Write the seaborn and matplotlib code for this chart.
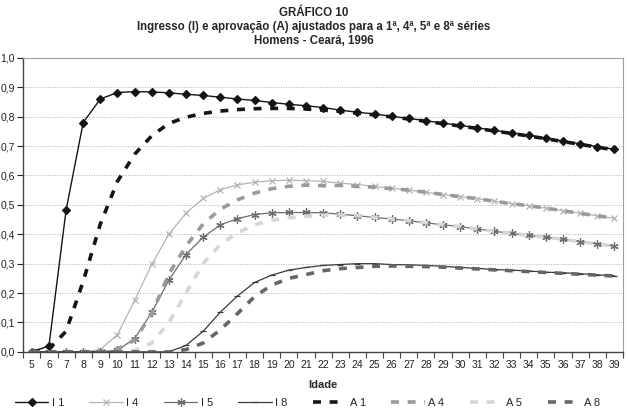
import matplotlib
matplotlib.use("Agg")
import matplotlib.pyplot as plt
import seaborn as sns
import pandas as pd
from matplotlib.ticker import FixedLocator, MultipleLocator, FuncFormatter

idade = list(range(5, 40))

i1 = [0.0, 0.02, 0.482, 0.780, 0.860, 0.882, 0.885, 0.884, 0.881, 0.876, 0.872, 0.866, 0.860,
      0.855, 0.848, 0.842, 0.837, 0.831, 0.822, 0.815, 0.809, 0.801, 0.794, 0.786, 0.778, 0.770,
      0.762, 0.753, 0.745, 0.736, 0.727, 0.717, 0.708, 0.698, 0.689]
i4 = [0, 0, 0, 0, 0.008, 0.059, 0.175, 0.298, 0.400, 0.472, 0.522, 0.551, 0.568, 0.577, 0.582,
      0.584, 0.582, 0.580, 0.574, 0.569, 0.563, 0.556, 0.550, 0.543, 0.535, 0.528, 0.521, 0.512,
      0.504, 0.497, 0.489, 0.480, 0.471, 0.463, 0.454]
i5 = [0, 0, 0, 0, 0, 0.006, 0.045, 0.134, 0.244, 0.331, 0.390, 0.432, 0.453, 0.467, 0.473, 0.474,
      0.474, 0.473, 0.468, 0.463, 0.457, 0.452, 0.446, 0.439, 0.432, 0.426, 0.418, 0.410, 0.403,
      0.396, 0.390, 0.383, 0.375, 0.367, 0.360]
i8 = [0, 0, 0, 0, 0, 0, 0, 0, 0, 0.022, 0.070, 0.135, 0.190, 0.236, 0.261, 0.278, 0.287, 0.294,
      0.297, 0.300, 0.300, 0.297, 0.296, 0.294, 0.291, 0.287, 0.284, 0.280, 0.278, 0.275, 0.271,
      0.269, 0.266, 0.262, 0.259]
a1 = [0.0, 0.01, 0.07, 0.24, 0.435, 0.58, 0.672, 0.735, 0.777, 0.798, 0.811, 0.819, 0.824, 0.827,
      0.828, 0.828, 0.826, 0.822, 0.818, 0.812, 0.806, 0.799, 0.792, 0.784, 0.776, 0.768, 0.760,
      0.751, 0.743, 0.734, 0.725, 0.715, 0.706, 0.696, 0.687]
a4 = [0, 0, 0, 0, 0, 0.01, 0.04, 0.13, 0.265, 0.36, 0.435, 0.485, 0.517, 0.540, 0.555, 0.563,
      0.567, 0.565, 0.566, 0.563, 0.560, 0.555, 0.550, 0.543, 0.535, 0.528, 0.521, 0.512, 0.504,
      0.497, 0.489, 0.480, 0.471, 0.463, 0.454]
a5 = [0, 0, 0, 0, 0, 0, 0.005, 0.03, 0.10, 0.20, 0.30, 0.365, 0.405, 0.432, 0.448, 0.456, 0.461,
      0.465, 0.466, 0.463, 0.457, 0.452, 0.446, 0.439, 0.432, 0.426, 0.418, 0.410, 0.403, 0.396,
      0.390, 0.383, 0.375, 0.367, 0.360]
a8 = [0, 0, 0, 0, 0, 0, 0, 0, 0, 0.008, 0.03, 0.075, 0.13, 0.188, 0.227, 0.25, 0.263, 0.276,
      0.283, 0.287, 0.291, 0.292, 0.291, 0.290, 0.288, 0.285, 0.282, 0.279, 0.276, 0.273, 0.270,
      0.267, 0.264, 0.261, 0.258]

series = {"I 1": i1, "I 4": i4, "I 5": i5, "I 8": i8,
          "A 1": a1, "A 4": a4, "A 5": a5, "A 8": a8}
df = pd.DataFrame({"Idade": idade, **series})

sns.set_style("white")
plt.rcParams["font.family"] = ["Liberation Sans", "DejaVu Sans"]

fig = plt.figure(figsize=(6.28, 4.13), dpi=100)
ax = fig.add_axes([0.037, 0.148, 0.955, 0.712])

solid = {
    "I 1": dict(color="#151515", marker="D", markersize=3.6, lw=1.0),
    "I 4": dict(color="#b4b4b4", marker="x", markersize=5, lw=0.9),
    "I 5": dict(color="#6e6e6e", marker=(6, 2, 0), markersize=6, lw=0.9),
    "I 8": dict(color="#3a3a3a", marker="_", markersize=5, lw=0.9),
}
dashed = {"A 1": "#151515", "A 4": "#9a9a9a", "A 5": "#d6d6d6", "A 8": "#666666"}

for name, st in solid.items():
    sns.lineplot(data=df, x="Idade", y=name, ax=ax, label=name,
                 markeredgecolor=st["color"], markeredgewidth=0.9, **st)
for name, c in dashed.items():
    sns.lineplot(data=df, x="Idade", y=name, ax=ax, label=name, color=c,
                 lw=2.6, linestyle=(0, (2.2, 2.4)))

ax.set_xlim(4.5, 39.5)
ax.set_ylim(0, 1.0)
ax.xaxis.set_major_locator(FixedLocator(idade))
ax.xaxis.set_minor_locator(MultipleLocator(1, offset=0.5))
ax.tick_params(axis="x", which="major", length=0, labelsize=7.5, pad=6, colors="#222222")
ax.tick_params(axis="x", which="minor", length=4, width=0.8, direction="out", color="#444444", bottom=True)
ax.yaxis.set_major_locator(MultipleLocator(0.1))
ax.yaxis.set_major_formatter(FuncFormatter(lambda v, p: f"{v:.1f}".replace(".", ",")))
ax.tick_params(axis="y", length=4, width=0.8, direction="out", labelsize=7.5, pad=2,
               colors="#222222", left=True)
ax.grid(axis="y", color="#b0b0b0", linestyle=(0, (1, 1.5)), lw=0.7)
ax.grid(axis="x", visible=False)

for s in ["left", "bottom"]:
    ax.spines[s].set_color("#444444")
    ax.spines[s].set_linewidth(1.0)
for s in ["top", "right"]:
    ax.spines[s].set_color("#a0a0a0")
    ax.spines[s].set_linewidth(0.8)

ax.set_xlabel("Idade", fontsize=8, fontweight="bold", labelpad=7)
ax.set_ylabel("")

handles, labels = ax.get_legend_handles_labels()
ax.get_legend().remove()
fig.legend(handles, labels, loc="center", bbox_to_anchor=(0.49, 0.025), ncol=8, frameon=False,
           fontsize=8, handlelength=3.0, columnspacing=2.3, handletextpad=0.3)

fig.text(0.5, 0.968, "GRÁFICO 10", ha="center", va="center", fontsize=8.3, fontweight="bold")
fig.text(0.5, 0.934, "Ingresso (I) e aprovação (A) ajustados para a 1ª, 4ª, 5ª e 8ª séries",
         ha="center", va="center", fontsize=8.3, fontweight="bold")
fig.text(0.5, 0.900, "Homens - Ceará, 1996", ha="center", va="center", fontsize=8.3, fontweight="bold")

fig.savefig("out.png", dpi=100)
